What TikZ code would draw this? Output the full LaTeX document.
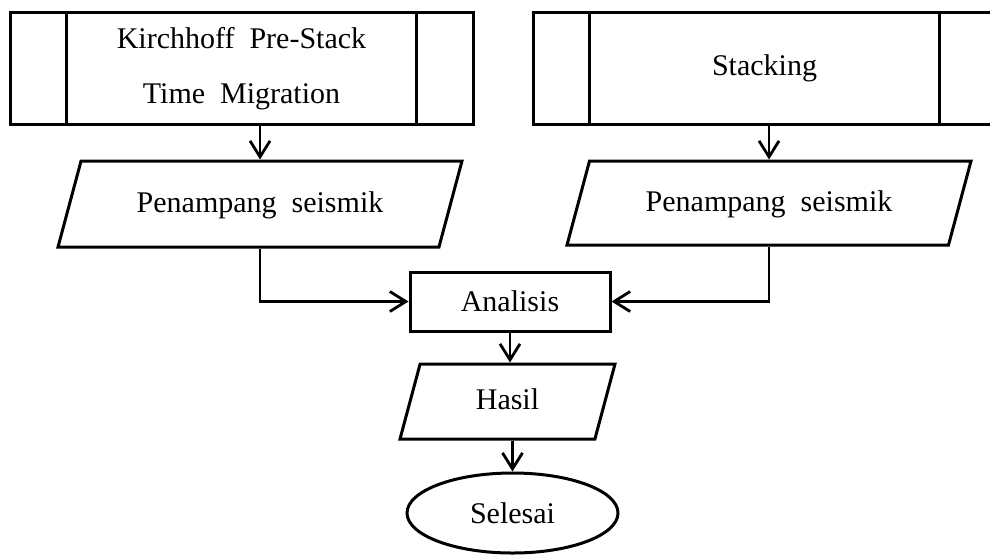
\documentclass[tikz,border=0pt]{standalone}
\usepackage{fontspec}
\setmainfont{Liberation Serif}
\usetikzlibrary{arrows.meta, shapes.geometric}

\tikzset{
  proc/.style={draw, line width=1.5pt, minimum width=231.5pt, minimum height=56pt, align=center, inner sep=0pt},
  io/.style={draw, trapezium, trapezium left angle=75, trapezium right angle=105, trapezium stretches body,
    line width=1.5pt, inner xsep=0pt, text height=12pt, text depth=4pt},
  flow/.style={line width=1.4pt, -{Straight Barb[length=8pt,width=10pt,line width=1.4pt]}}
}

\begin{document}
\begin{tikzpicture}[x=0.5pt, y=-0.5pt, font=\fontsize{15pt}{27.5pt}\selectfont]
\useasboundingbox (0,0) rectangle (990,554);

\node (kpstm) [proc] at (241.5,68.5) {Kirchhoff~~Pre-Stack\\Time~~Migration};
\node (stk) [proc] at (764.5,68) {Stacking};
\node (pl1) [io, minimum width=202pt, inner ysep=13.5pt] at (260,204) {Penampang~~seismik};
\node (pl2) [io, minimum width=202pt, inner ysep=13pt] at (769,203) {Penampang~~seismik};
\node (an) [draw, line width=1.5pt, minimum width=100pt, minimum height=29.5pt, inner sep=0pt] at (510,301.5) {Analisis};
\node (hs) [io, minimum width=107.5pt, inner ysep=10.75pt] at (507.5,401.5) {Hasil};
\node (sl) [draw, ellipse, line width=1.5pt, minimum width=105.5pt, minimum height=40pt, inner sep=0pt] at (512.5,513) {Selesai};

%side bars of the process boxes
\foreach \b in {kpstm, stk}
  \draw [line width=1.5pt] ([xshift=29pt]\b.north west) -- ([xshift=29pt]\b.south west)
    ([xshift=-29pt]\b.north east) -- ([xshift=-29pt]\b.south east);

\path [flow]
(kpstm.south -| pl1.north) edge (pl1.north)
(stk.south -| pl2.north) edge (pl2.north)
(an.south) edge (an.south |- hs.north)
(hs.south -| sl.north) edge (sl.north)
;
\draw [flow] (pl1.south) |- (an.west);
\draw [flow] (pl2.south) |- (an.east);

\end{tikzpicture}
\end{document}
